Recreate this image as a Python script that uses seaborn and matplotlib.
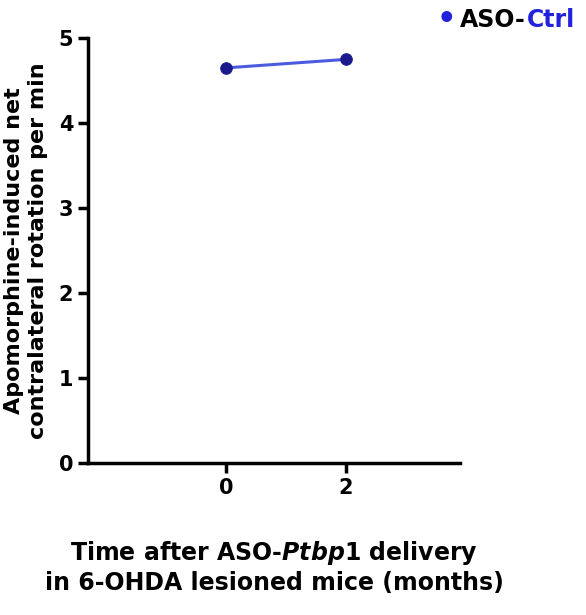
import matplotlib
matplotlib.use("Agg")
import matplotlib.pyplot as plt
import seaborn as sns
import pandas as pd

months = [0, 2]
rotation = [4.65, 4.75]
series = "ASO-Ctrl"

sns.set_theme(style="ticks")
plt.rcParams['font.family'] = ['DejaVu Sans']
plt.rcParams['font.weight'] = 'bold'
plt.rcParams['mathtext.fontset'] = 'custom'
plt.rcParams['mathtext.it'] = 'DejaVu Sans:italic:bold'
plt.rcParams['mathtext.rm'] = 'DejaVu Sans:bold'
plt.rcParams['text.color'] = 'black'
plt.rcParams['axes.labelcolor'] = 'black'
plt.rcParams['xtick.color'] = 'black'
plt.rcParams['ytick.color'] = 'black'

df = pd.DataFrame({"months": months, "rotation": rotation})
fig = plt.figure(figsize=(5.86, 6.15), dpi=100)
ax = fig.add_axes([0.150, 0.247, 0.635, 0.691])
sns.lineplot(data=df, x="months", y="rotation", ax=ax, color="#4a5be0", lw=2.2)
sns.scatterplot(data=df, x="months", y="rotation", ax=ax, color="#1a1a8c", s=70, zorder=3, edgecolor="#1a1a8c")
ax.set_xlim(-2.3, 3.9)
ax.set_ylim(0, 5)
ax.set_xticks([0, 2])
ax.set_yticks([0, 1, 2, 3, 4, 5])
ax.tick_params(labelsize=15, width=2.5, length=7, colors='black')
for l in ax.get_xticklabels() + ax.get_yticklabels():
    l.set_fontweight('bold')
for s in ['top', 'right']:
    ax.spines[s].set_visible(False)
for s in ['left', 'bottom']:
    ax.spines[s].set_linewidth(2.5)
    ax.spines[s].set_color('black')
ax.set_ylabel("Apomorphine-induced net\ncontralateral rotation per min", fontsize=16, fontweight='bold', labelpad=8)
ax.set_xlabel("Time after ASO-$\\mathit{Ptbp1}$ delivery\nin 6-OHDA lesioned mice (months)", fontsize=17, fontweight='bold', labelpad=30)
fig.text(0.745, 0.968, "•", color="#2222dd", fontsize=22, va='center', ha='left')
t = fig.text(0.785, 0.968, "ASO-", color="black", fontsize=17, fontweight='bold', va='center', ha='left')
fig.canvas.draw()
bb = t.get_window_extent().transformed(fig.transFigure.inverted())
fig.text(bb.x1 + 0.002, 0.968, "Ctrl", color="#2222dd", fontsize=17, fontweight='bold', va='center', ha='left')
fig.savefig("out.png", dpi=100)
